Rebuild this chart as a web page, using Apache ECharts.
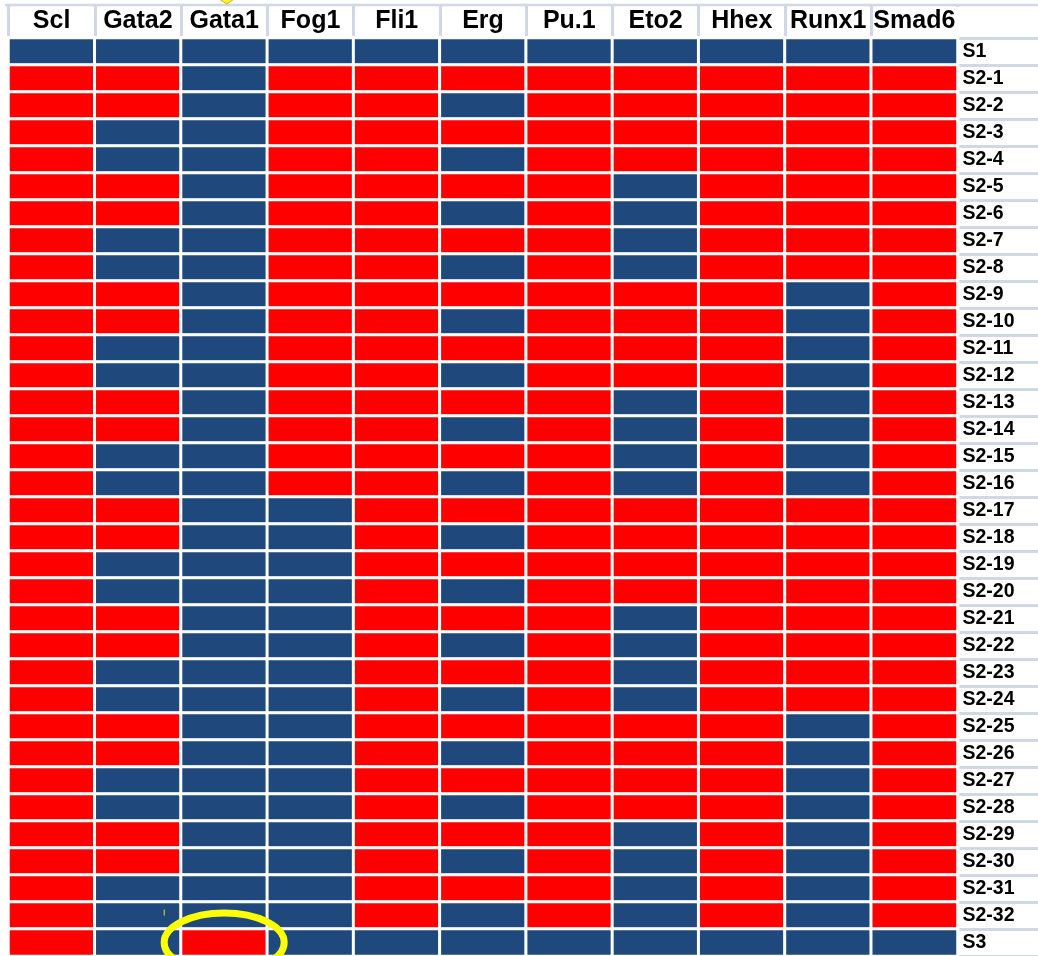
<!DOCTYPE html>
<html>
<head>
<meta charset="utf-8">
<title>Gene states per sample</title>
<script src="https://cdn.jsdelivr.net/npm/echarts@6/dist/echarts.min.js"></script>
<style>
  html, body { margin: 0; padding: 0; background: #ffffff; }
  #chart { width: 1038px; height: 956px; }
</style>
</head>
<body>
<div id="chart"></div>
<script>
// Genes (columns)
const genes = ['Scl', 'Gata2', 'Gata1', 'Fog1', 'Fli1', 'Erg', 'Pu.1', 'Eto2', 'Hhex', 'Runx1', 'Smad6'];

// Samples (rows, top to bottom)
const samples = [
  'S1',
  'S2-1', 'S2-2', 'S2-3', 'S2-4', 'S2-5', 'S2-6', 'S2-7', 'S2-8',
  'S2-9', 'S2-10', 'S2-11', 'S2-12', 'S2-13', 'S2-14', 'S2-15', 'S2-16',
  'S2-17', 'S2-18', 'S2-19', 'S2-20', 'S2-21', 'S2-22', 'S2-23', 'S2-24',
  'S2-25', 'S2-26', 'S2-27', 'S2-28', 'S2-29', 'S2-30', 'S2-31', 'S2-32',
  'S3'
];

// State of each gene per sample: 1 = on (red), 0 = off (blue)
//            S1  S2-1 ........................................................ S2-32  S3
const scl   = [0, 1,1,1,1,1,1,1,1, 1,1,1,1,1,1,1,1, 1,1,1,1,1,1,1,1, 1,1,1,1,1,1,1,1, 1];
const gata2 = [0, 1,1,0,0,1,1,0,0, 1,1,0,0,1,1,0,0, 1,1,0,0,1,1,0,0, 1,1,0,0,1,1,0,0, 0];
const gata1 = [0, 0,0,0,0,0,0,0,0, 0,0,0,0,0,0,0,0, 0,0,0,0,0,0,0,0, 0,0,0,0,0,0,0,0, 1];
const fog1  = [0, 1,1,1,1,1,1,1,1, 1,1,1,1,1,1,1,1, 0,0,0,0,0,0,0,0, 0,0,0,0,0,0,0,0, 0];
const fli1  = [0, 1,1,1,1,1,1,1,1, 1,1,1,1,1,1,1,1, 1,1,1,1,1,1,1,1, 1,1,1,1,1,1,1,1, 0];
const erg   = [0, 1,0,1,0,1,0,1,0, 1,0,1,0,1,0,1,0, 1,0,1,0,1,0,1,0, 1,0,1,0,1,0,1,0, 0];
const pu1   = [0, 1,1,1,1,1,1,1,1, 1,1,1,1,1,1,1,1, 1,1,1,1,1,1,1,1, 1,1,1,1,1,1,1,1, 0];
const eto2  = [0, 1,1,1,1,0,0,0,0, 1,1,1,1,0,0,0,0, 1,1,1,1,0,0,0,0, 1,1,1,1,0,0,0,0, 0];
const hhex  = [0, 1,1,1,1,1,1,1,1, 1,1,1,1,1,1,1,1, 1,1,1,1,1,1,1,1, 1,1,1,1,1,1,1,1, 0];
const runx1 = [0, 1,1,1,1,1,1,1,1, 0,0,0,0,0,0,0,0, 1,1,1,1,1,1,1,1, 0,0,0,0,0,0,0,0, 0];
const smad6 = [0, 1,1,1,1,1,1,1,1, 1,1,1,1,1,1,1,1, 1,1,1,1,1,1,1,1, 1,1,1,1,1,1,1,1, 0];

const states = [scl, gata2, gata1, fog1, fli1, erg, pu1, eto2, hhex, runx1, smad6];

// Highlighted cell
const highlightGene = 'Gata1';
const highlightSample = 'S3';

const ON_COLOR = '#ff0000';
const OFF_COLOR = '#1f497d';
const GRID_COLOR = '#d0d7e5';
const FONT = "'Liberation Sans', Arial, sans-serif";

const cells = [];
states.forEach(function (col, gi) {
  col.forEach(function (v, si) {
    cells.push([gi, si, v]);
  });
});

const chart = echarts.init(document.getElementById('chart'), null, { renderer: 'canvas' });

chart.setOption({
  backgroundColor: '#ffffff',
  animation: false,
  grid: { left: 8.5, top: 38, width: 949, height: 918, containLabel: false },
  xAxis: {
    type: 'category',
    position: 'top',
    data: genes,
    axisLine: { show: false },
    axisTick: { show: true, length: 33, lineStyle: { color: GRID_COLOR, width: 3 } },
    axisLabel: {
      interval: 0,
      margin: 17,
      verticalAlign: 'middle',
      color: '#000000',
      fontFamily: FONT,
      fontWeight: 'bold',
      fontSize: 25
    },
    splitLine: { show: false }
  },
  yAxis: {
    type: 'category',
    position: 'right',
    inverse: true,
    data: samples,
    axisLine: { show: false },
    axisTick: { show: true, length: 81, lineStyle: { color: GRID_COLOR, width: 3 } },
    axisLabel: {
      interval: 0,
      margin: 5,
      align: 'left',
      color: '#000000',
      fontFamily: FONT,
      fontWeight: 'bold',
      fontSize: 19.5
    },
    splitLine: { show: false }
  },
  visualMap: {
    show: false,
    type: 'piecewise',
    dimension: 2,
    pieces: [
      { value: 0, color: OFF_COLOR },
      { value: 1, color: ON_COLOR }
    ]
  },
  series: [{
    type: 'heatmap',
    data: cells,
    itemStyle: { borderColor: '#ffffff', borderWidth: 3 },
    emphasis: { disabled: true },
    label: { show: false }
  }]
});

// Annotations: sheet border lines, the ring around the highlighted cell and its small markers
const hp = chart.convertToPixel({ seriesIndex: 0 }, [highlightGene, highlightSample]);
const gridRight = chart.convertToPixel({ xAxisIndex: 0 }, genes[genes.length - 1]) +
  (chart.convertToPixel({ xAxisIndex: 0 }, genes[1]) - chart.convertToPixel({ xAxisIndex: 0 }, genes[0])) / 2;
chart.setOption({
  graphic: [
    {
      type: 'line',
      shape: { x1: 5, y1: 5, x2: 1038, y2: 5 },
      style: { stroke: GRID_COLOR, lineWidth: 2.5 },
      silent: true
    },
    {
      // the header row has no border after its last column
      type: 'rect',
      shape: { x: gridRight - 2, y: 7, width: 4, height: 29 },
      style: { fill: '#ffffff' },
      silent: true,
      z: 50
    },
    {
      type: 'ellipse',
      shape: { cx: hp[0], cy: hp[1], rx: 60, ry: 29.5 },
      style: { fill: null, stroke: '#ffff00', lineWidth: 7 },
      silent: true,
      z: 100
    },
    {
      type: 'line',
      shape: { x1: hp[0] - 60, y1: hp[1] - 33, x2: hp[0] - 60, y2: hp[1] - 27 },
      style: { stroke: '#e8e800', lineWidth: 1 },
      silent: true,
      z: 100
    },
    {
      type: 'polygon',
      shape: { points: [[hp[0] - 5, -1], [hp[0] + 10, -1], [hp[0] + 2.5, 4]] },
      style: { fill: '#ffef3a', stroke: '#c8b400', lineWidth: 1 },
      silent: true,
      z: 100
    }
  ]
});
</script>
</body>
</html>
